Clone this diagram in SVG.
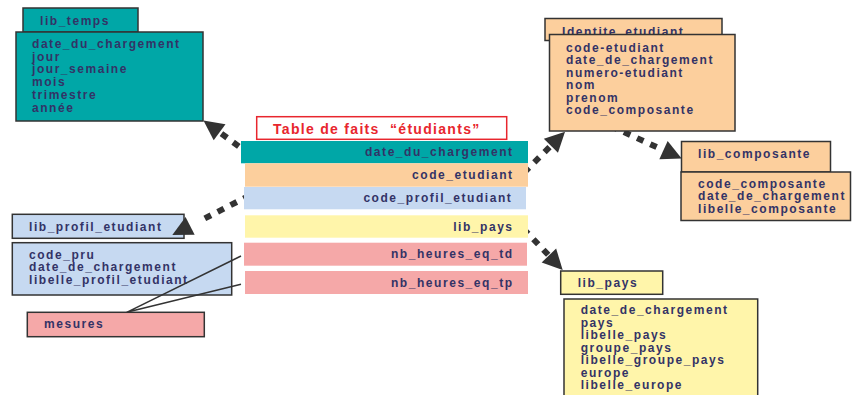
<svg xmlns="http://www.w3.org/2000/svg" width="855" height="395" viewBox="0 0 855 395">
<defs>
<style>
.t{font-family:"Liberation Sans",Arial,sans-serif;font-weight:bold;font-size:12px;letter-spacing:1.55px;fill:#333366}
.te{text-anchor:end}
.box{stroke:#333;stroke-width:1.5}
.teal{fill:#00A7A7}.peach{fill:#FCCF9D}.blue{fill:#C6D9F1}.yellow{fill:#FFF5AA}.pink{fill:#F5A8A8}
.dot{fill:none;stroke:#333;stroke-width:6;stroke-dasharray:7 7.5}
.thin{fill:none;stroke:#333;stroke-width:1.5}
.title{font-family:"Liberation Sans",Arial,sans-serif;font-weight:bold;font-size:14px;letter-spacing:1.3px;fill:#E8262E}
</style>
<marker id="head" markerUnits="userSpaceOnUse" viewBox="0 0 20 20" markerWidth="20" markerHeight="20" refX="0" refY="10" orient="auto" overflow="visible"><path d="M0,0 L20,10 L0,20 z" fill="#333"/></marker>
<marker id="headFar" markerUnits="userSpaceOnUse" viewBox="0 0 20 20" markerWidth="20" markerHeight="20" refX="-16.5" refY="10" orient="auto" overflow="visible"><path d="M0,0 L20,10 L0,20 z" fill="#333"/></marker>
</defs>
<rect width="855" height="395" fill="#fff"/>

<g id="lib_temps">
<rect class="box teal" x="23" y="8" width="115" height="24"/>
<text class="t" x="40" y="25">lib_temps</text>
<rect class="box teal" x="16" y="32" width="187" height="89"/>
<text class="t" x="32" y="48">date_du_chargement</text>
<text class="t" x="32" y="60.7">jour</text>
<text class="t" x="32" y="73.4">jour_semaine</text>
<text class="t" x="32" y="86.1">mois</text>
<text class="t" x="32" y="98.8">trimestre</text>
<text class="t" x="32" y="111.5">année</text>
</g>

<g id="lib_profil_etudiant">
<rect class="box blue" x="12.3" y="214.3" width="171.7" height="24"/>
<text class="t" x="29" y="230.7">lib_profil_etudiant</text>
<rect class="box blue" x="12.3" y="242.7" width="219.4" height="52.3"/>
<text class="t" x="29" y="258.5">code_pru</text>
<text class="t" x="29" y="271">date_de_chargement</text>
<text class="t" x="29" y="283.5">libelle_profil_etudiant</text>
</g>

<g id="mesures">
<rect class="box pink" x="27.3" y="312.3" width="177" height="24.4"/>
<text class="t" x="44" y="328.3">mesures</text>
</g>

<g id="lib_composante">
<rect class="box peach" x="681.5" y="141.5" width="149" height="30.5"/>
<text class="t" x="698" y="157.5">lib_composante</text>
<rect class="box peach" x="681" y="172" width="169.5" height="48.5"/>
<text class="t" x="698" y="187.5">code_composante</text>
<text class="t" x="698" y="200">date_de_chargement</text>
<text class="t" x="698" y="212.5">libelle_composante</text>
</g>

<g id="lib_pays">
<rect class="box yellow" x="560.7" y="271" width="102" height="23.3"/>
<text class="t" x="577.7" y="286.7">lib_pays</text>
<rect class="box yellow" x="564" y="299" width="193.7" height="110"/>
<text class="t" x="580.7" y="314">date_de_chargement</text>
<text class="t" x="580.7" y="326.5">pays</text>
<text class="t" x="580.7" y="339">libelle_pays</text>
<text class="t" x="580.7" y="351.5">groupe_pays</text>
<text class="t" x="580.7" y="364">libelle_groupe_pays</text>
<text class="t" x="580.7" y="376.5">europe</text>
<text class="t" x="580.7" y="389">libelle_europe</text>
</g>

<g id="connectors">
<path class="dot" d="M250.5,154.9 L219.6,132.3" marker-end="url(#head)"/>
<path class="dot" d="M513.8,182.9 L550.9,145.8" marker-end="url(#head)"/>
<path class="dot" d="M610.7,126.1 L663.5,150.2" marker-end="url(#head)"/>
<path class="dot" d="M249.7,195.4 L204.8,218.4" marker-end="url(#headFar)"/>
<path class="dot" d="M513.4,218.2 L548.9,255.5" marker-end="url(#head)"/>
<path class="thin" d="M241,256 L126.7,312.3 L241,284.3"/>
</g>

<g id="identite_etudiant">
<rect class="box peach" x="545" y="18.5" width="177" height="22"/>
<text class="t" x="562" y="36">Identite_etudiant</text>
<rect class="box peach" x="549.5" y="34.5" width="185.5" height="96.5"/>
<text class="t" x="566" y="51.5">code-etudiant</text>
<text class="t" x="566" y="64">date_de_chargement</text>
<text class="t" x="566" y="76.5">numero-etudiant</text>
<text class="t" x="566" y="89">nom</text>
<text class="t" x="566" y="101.5">prenom</text>
<text class="t" x="566" y="114">code_composante</text>
</g>

<g id="table_de_faits">
<rect x="256.7" y="116.7" width="250" height="22.6" fill="#fff" stroke="#E8262E" stroke-width="1.5"/>
<text class="title" x="273" y="134" xml:space="preserve">Table de faits  “étudiants”</text>
<rect class="teal" x="241" y="141" width="287" height="22.3"/>
<text class="t te" x="513.6" y="155.7">date_du_chargement</text>
<rect class="peach" x="245" y="163.3" width="283" height="23.4"/>
<text class="t te" x="513.6" y="179">code_etudiant</text>
<rect class="blue" x="244" y="187" width="282" height="22.3"/>
<text class="t te" x="512.4" y="201.7">code_profil_etudiant</text>
<rect class="yellow" x="245" y="215.3" width="283" height="22.4"/>
<text class="t te" x="513.6" y="230.7">lib_pays</text>
<rect class="pink" x="244" y="242.7" width="283" height="23"/>
<text class="t te" x="513.6" y="258.3">nb_heures_eq_td</text>
<rect class="pink" x="245" y="271" width="283" height="23"/>
<text class="t te" x="513.6" y="286.7">nb_heures_eq_tp</text>
</g>
</svg>
